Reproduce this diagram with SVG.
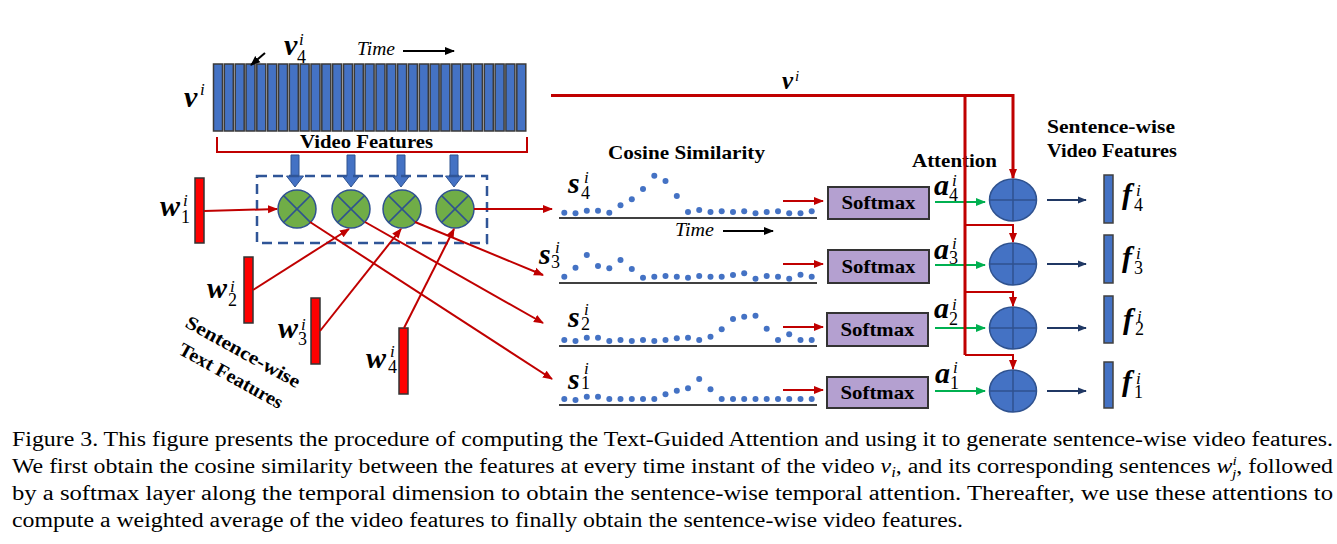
<svg xmlns="http://www.w3.org/2000/svg" width="1337" height="544" viewBox="0 0 1337 544">
<style>
.lbl{font-family:"Liberation Serif",serif;font-weight:bold;font-size:19px;fill:#000}
.m{font-family:"Liberation Serif",serif;font-weight:bold;font-style:italic;font-size:30px;fill:#000}
.sup{font-family:"Liberation Serif",serif;font-weight:normal;font-style:italic;font-size:17px}
.sub{font-family:"Liberation Serif",serif;font-weight:normal;font-style:normal;font-size:18px}
.time{font-family:"Liberation Serif",serif;font-style:italic;font-size:18px;fill:#000}
.cap{font-family:"Liberation Serif",serif;font-size:20px;fill:#000}
.vbar{fill:#4472C4;stroke:#3a3a3a;stroke-width:1.5}
.wbar{fill:#FF0000;stroke:#333;stroke-width:1.5}
.fbar{fill:#4472C4;stroke:#404040;stroke-width:1.5}
.red{stroke:#C00000;stroke-width:2;fill:none}
.redt{stroke:#C00000;stroke-width:3;fill:none}
.grn{stroke:#00B050;stroke-width:2;fill:none}
.nav{stroke:#203864;stroke-width:2;fill:none}
.blk{stroke:#000;stroke-width:2;fill:none}
.mult{fill:#70AD47;stroke:#2F528F;stroke-width:1.5}
.x{stroke:#2F528F;stroke-width:1.5}
.add{fill:#4472C4;stroke:#2F528F;stroke-width:1.5}
.soft{fill:#B4A0D0;stroke:#333;stroke-width:2}
.axis{stroke:#404040;stroke-width:2}
.dot{fill:#4472C4}
.barrow{fill:#4472C4;stroke:#2F528F;stroke-width:1}
</style>
<defs>
<marker id="ar" viewBox="0 0 10 10" refX="9" refY="5" markerWidth="10" markerHeight="10" markerUnits="userSpaceOnUse" orient="auto"><path d="M0,1 L10,5 L0,9 z" fill="#C00000"/></marker>
<marker id="ag" viewBox="0 0 10 10" refX="9" refY="5" markerWidth="10" markerHeight="10" markerUnits="userSpaceOnUse" orient="auto"><path d="M0,1 L10,5 L0,9 z" fill="#00B050"/></marker>
<marker id="an" viewBox="0 0 10 10" refX="9" refY="5" markerWidth="9" markerHeight="9" markerUnits="userSpaceOnUse" orient="auto"><path d="M0,1 L10,5 L0,9 z" fill="#203864"/></marker>
<marker id="ak" viewBox="0 0 10 10" refX="9" refY="5" markerWidth="10" markerHeight="10" markerUnits="userSpaceOnUse" orient="auto"><path d="M0,1 L10,5 L0,9 z" fill="#000"/></marker>
<g id="mx"><circle r="19" class="mult"/><line x1="-13.4" y1="-13.4" x2="13.4" y2="13.4" class="x"/><line x1="13.4" y1="-13.4" x2="-13.4" y2="13.4" class="x"/></g>
<g id="pl"><ellipse rx="23.5" ry="21" class="add"/><line x1="-23.5" y1="0" x2="23.5" y2="0" class="x"/><line x1="0" y1="-21" x2="0" y2="21" class="x"/></g>
<path id="dn" d="M-4,0 H4 V21 H8.5 L0,32 L-8.5,21 H-4 z"/>
</defs>

<g id="video-features">
<rect class="vbar" x="213.5" y="64" width="9" height="67"/>
<rect class="vbar" x="224.3" y="64" width="9" height="67"/>
<rect class="vbar" x="235.2" y="64" width="9" height="67"/>
<rect class="vbar" x="246.0" y="64" width="9" height="67"/>
<rect class="vbar" x="256.8" y="64" width="9" height="67"/>
<rect class="vbar" x="267.7" y="64" width="9" height="67"/>
<rect class="vbar" x="278.5" y="64" width="9" height="67"/>
<rect class="vbar" x="289.3" y="64" width="9" height="67"/>
<rect class="vbar" x="300.1" y="64" width="9" height="67"/>
<rect class="vbar" x="311.0" y="64" width="9" height="67"/>
<rect class="vbar" x="321.8" y="64" width="9" height="67"/>
<rect class="vbar" x="332.6" y="64" width="9" height="67"/>
<rect class="vbar" x="343.5" y="64" width="9" height="67"/>
<rect class="vbar" x="354.3" y="64" width="9" height="67"/>
<rect class="vbar" x="365.1" y="64" width="9" height="67"/>
<rect class="vbar" x="376.0" y="64" width="9" height="67"/>
<rect class="vbar" x="386.8" y="64" width="9" height="67"/>
<rect class="vbar" x="397.6" y="64" width="9" height="67"/>
<rect class="vbar" x="408.4" y="64" width="9" height="67"/>
<rect class="vbar" x="419.3" y="64" width="9" height="67"/>
<rect class="vbar" x="430.1" y="64" width="9" height="67"/>
<rect class="vbar" x="440.9" y="64" width="9" height="67"/>
<rect class="vbar" x="451.8" y="64" width="9" height="67"/>
<rect class="vbar" x="462.6" y="64" width="9" height="67"/>
<rect class="vbar" x="473.4" y="64" width="9" height="67"/>
<rect class="vbar" x="484.3" y="64" width="9" height="67"/>
<rect class="vbar" x="495.1" y="64" width="9" height="67"/>
<rect class="vbar" x="505.9" y="64" width="9" height="67"/>
<rect class="vbar" x="516.8" y="64" width="9" height="67"/>
<path d="M217,137 V152 H527 V137" class="red"/>
<text class="lbl" x="366.5" y="148" text-anchor="middle" textLength="133" lengthAdjust="spacingAndGlyphs">Video Features</text>
<text class="m" x="184" y="107">v<tspan class="sup" x="200" y="95">i</tspan></text>
<text class="m" x="284" y="55">v<tspan class="sup" x="299" y="45">i</tspan><tspan class="sub" x="297" y="63">4</tspan></text>
<line x1="265" y1="53" x2="251" y2="65" class="blk" marker-end="url(#ak)"/>
<text class="time" x="357" y="55" textLength="38" lengthAdjust="spacingAndGlyphs">Time</text>
<line x1="403" y1="51" x2="454" y2="51" class="blk" marker-end="url(#ak)"/>
</g>

<g id="feature-arrows">
<use href="#dn" x="295" y="155" class="barrow"/>
<use href="#dn" x="351" y="155" class="barrow"/>
<use href="#dn" x="401" y="155" class="barrow"/>
<use href="#dn" x="454" y="155" class="barrow"/>
</g>

<g id="multiply">
<rect x="257" y="176" width="230" height="67" fill="none" stroke="#2F5597" stroke-width="2.5" stroke-dasharray="10,6"/>
<use href="#mx" x="297" y="209"/>
<use href="#mx" x="351" y="209"/>
<use href="#mx" x="402" y="209"/>
<use href="#mx" x="455" y="209"/>
</g>

<g id="text-features">
<rect class="wbar" x="195" y="178" width="9" height="65"/>
<rect class="wbar" x="244" y="257" width="9" height="66"/>
<rect class="wbar" x="311" y="298" width="9" height="66"/>
<rect class="wbar" x="399" y="328" width="9" height="66"/>
<text class="m" x="160" y="216">w<tspan class="sup" x="183" y="206">i</tspan><tspan class="sub" x="181" y="223">1</tspan></text>
<text class="m" x="207" y="298">w<tspan class="sup" x="230" y="292">i</tspan><tspan class="sub" x="228" y="306">2</tspan></text>
<text class="m" x="278" y="338">w<tspan class="sup" x="301" y="330">i</tspan><tspan class="sub" x="298" y="345">3</tspan></text>
<text class="m" x="366" y="368">w<tspan class="sup" x="390" y="357">i</tspan><tspan class="sub" x="388" y="373">4</tspan></text>
<g transform="translate(243,352) rotate(29)"><text class="lbl" x="0" y="6" text-anchor="middle" textLength="128" lengthAdjust="spacingAndGlyphs">Sentence-wise</text></g>
<g transform="translate(231,376) rotate(29)"><text class="lbl" x="0" y="6" text-anchor="middle" textLength="116" lengthAdjust="spacingAndGlyphs">Text Features</text></g>
</g>

<g id="cosine-similarity">
<text class="lbl" x="686.5" y="159" text-anchor="middle" textLength="157" lengthAdjust="spacingAndGlyphs">Cosine Similarity</text>
<text class="time" x="675" y="236" textLength="39" lengthAdjust="spacingAndGlyphs">Time</text>
<line x1="723" y1="231" x2="773" y2="231" class="blk" marker-end="url(#ak)"/>
<line x1="559" y1="218" x2="817" y2="218" class="axis"/>
<line x1="559" y1="283" x2="817" y2="283" class="axis"/>
<line x1="559" y1="346" x2="817" y2="346" class="axis"/>
<line x1="559" y1="405" x2="817" y2="405" class="axis"/>
<text class="m" x="568" y="193">s<tspan class="sup" x="584" y="183">i</tspan><tspan class="sub" x="581" y="199">4</tspan></text>
<text class="m" x="539" y="264">s<tspan class="sup" x="555" y="253">i</tspan><tspan class="sub" x="551" y="268">3</tspan></text>
<text class="m" x="568" y="327">s<tspan class="sup" x="584" y="315">i</tspan><tspan class="sub" x="581" y="330">2</tspan></text>
<text class="m" x="568" y="389">s<tspan class="sup" x="584" y="374">i</tspan><tspan class="sub" x="581" y="389">1</tspan></text>
<g class="dot">
<circle cx="564.3" cy="212.7" r="3"/><circle cx="575.5" cy="213.3" r="3"/><circle cx="586.8" cy="210.7" r="3"/><circle cx="598.0" cy="210.7" r="3"/><circle cx="609.3" cy="212.7" r="3"/><circle cx="620.5" cy="205.3" r="3"/><circle cx="631.8" cy="199.3" r="3"/><circle cx="643.0" cy="189" r="3"/><circle cx="654.3" cy="175.7" r="3"/><circle cx="665.5" cy="181" r="3"/><circle cx="676.8" cy="196" r="3"/><circle cx="688.0" cy="212" r="3"/><circle cx="699.2" cy="210" r="3"/><circle cx="710.5" cy="212" r="3"/><circle cx="721.7" cy="211.3" r="3"/><circle cx="733.0" cy="212" r="3"/><circle cx="744.2" cy="211.3" r="3"/><circle cx="755.5" cy="213.3" r="3"/><circle cx="766.7" cy="212" r="3"/><circle cx="778.0" cy="211.3" r="3"/><circle cx="789.2" cy="213.3" r="3"/><circle cx="800.5" cy="213.3" r="3"/><circle cx="811.7" cy="211.3" r="3"/>
<circle cx="564.3" cy="276.7" r="3"/><circle cx="575.5" cy="267.7" r="3"/><circle cx="586.8" cy="255" r="3"/><circle cx="598.0" cy="266" r="3"/><circle cx="609.3" cy="268.3" r="3"/><circle cx="620.5" cy="260" r="3"/><circle cx="631.8" cy="269" r="3"/><circle cx="643.0" cy="277.7" r="3"/><circle cx="654.3" cy="276.7" r="3"/><circle cx="665.5" cy="276" r="3"/><circle cx="676.8" cy="276.7" r="3"/><circle cx="688.0" cy="277.7" r="3"/><circle cx="699.2" cy="276" r="3"/><circle cx="710.5" cy="276.7" r="3"/><circle cx="721.7" cy="276.7" r="3"/><circle cx="733.0" cy="275" r="3"/><circle cx="744.2" cy="273.3" r="3"/><circle cx="755.5" cy="278.7" r="3"/><circle cx="766.7" cy="276" r="3"/><circle cx="778.0" cy="276.7" r="3"/><circle cx="789.2" cy="278.7" r="3"/><circle cx="800.5" cy="274.7" r="3"/><circle cx="811.7" cy="276.7" r="3"/>
<circle cx="564.3" cy="340" r="3"/><circle cx="575.5" cy="341" r="3"/><circle cx="586.8" cy="337.7" r="3"/><circle cx="598.0" cy="337.7" r="3"/><circle cx="609.3" cy="341" r="3"/><circle cx="620.5" cy="340" r="3"/><circle cx="631.8" cy="341" r="3"/><circle cx="643.0" cy="340" r="3"/><circle cx="654.3" cy="341" r="3"/><circle cx="665.5" cy="340" r="3"/><circle cx="676.8" cy="338.3" r="3"/><circle cx="688.0" cy="337.7" r="3"/><circle cx="699.2" cy="340" r="3"/><circle cx="710.5" cy="336.7" r="3"/><circle cx="721.7" cy="329.3" r="3"/><circle cx="733.0" cy="319" r="3"/><circle cx="744.2" cy="316.7" r="3"/><circle cx="755.5" cy="315.7" r="3"/><circle cx="766.7" cy="328.7" r="3"/><circle cx="778.0" cy="340" r="3"/><circle cx="789.2" cy="334.3" r="3"/><circle cx="800.5" cy="340" r="3"/><circle cx="811.7" cy="340" r="3"/>
<circle cx="564.3" cy="399" r="3"/><circle cx="575.5" cy="400" r="3"/><circle cx="586.8" cy="396.7" r="3"/><circle cx="598.0" cy="396.7" r="3"/><circle cx="609.3" cy="399" r="3"/><circle cx="620.5" cy="399" r="3"/><circle cx="631.8" cy="399" r="3"/><circle cx="643.0" cy="399" r="3"/><circle cx="654.3" cy="399" r="3"/><circle cx="665.5" cy="394.3" r="3"/><circle cx="676.8" cy="390.7" r="3"/><circle cx="688.0" cy="388.3" r="3"/><circle cx="699.2" cy="379" r="3"/><circle cx="710.5" cy="389.3" r="3"/><circle cx="721.7" cy="399" r="3"/><circle cx="733.0" cy="399" r="3"/><circle cx="744.2" cy="399" r="3"/><circle cx="755.5" cy="399" r="3"/><circle cx="766.7" cy="399" r="3"/><circle cx="778.0" cy="399" r="3"/><circle cx="789.2" cy="399" r="3"/><circle cx="800.5" cy="399" r="3"/><circle cx="811.7" cy="399" r="3"/>
</g>
</g>

<g id="softmax">
<rect class="soft" x="828" y="187" width="101" height="32"/>
<rect class="soft" x="828" y="250" width="101" height="33"/>
<rect class="soft" x="827" y="313" width="101" height="33"/>
<rect class="soft" x="827" y="377" width="101" height="31"/>
<text class="lbl" x="878.5" y="209" text-anchor="middle" textLength="74" lengthAdjust="spacingAndGlyphs">Softmax</text>
<text class="lbl" x="878.5" y="273" text-anchor="middle" textLength="74" lengthAdjust="spacingAndGlyphs">Softmax</text>
<text class="lbl" x="877.5" y="336" text-anchor="middle" textLength="74" lengthAdjust="spacingAndGlyphs">Softmax</text>
<text class="lbl" x="877.5" y="399" text-anchor="middle" textLength="74" lengthAdjust="spacingAndGlyphs">Softmax</text>
</g>

<g id="attention">
<text class="lbl" x="954.5" y="167" text-anchor="middle" textLength="85" lengthAdjust="spacingAndGlyphs">Attention</text>
<text class="m" x="934" y="195">a<tspan class="sup" x="952" y="186">i</tspan><tspan class="sub" x="949" y="201">4</tspan></text>
<text class="m" x="934" y="259">a<tspan class="sup" x="952" y="249">i</tspan><tspan class="sub" x="949" y="264">3</tspan></text>
<text class="m" x="934" y="318">a<tspan class="sup" x="952" y="310">i</tspan><tspan class="sub" x="949" y="325">2</tspan></text>
<text class="m" x="935" y="383">a<tspan class="sup" x="953" y="373">i</tspan><tspan class="sub" x="950" y="389">1</tspan></text>
</g>

<g id="weighted-sum">
<use href="#pl" x="1013" y="200"/>
<use href="#pl" x="1013" y="264"/>
<use href="#pl" x="1013" y="328"/>
<use href="#pl" x="1013" y="391"/>
</g>

<g id="output-features">
<text class="lbl" x="1111" y="133" text-anchor="middle" textLength="128" lengthAdjust="spacingAndGlyphs">Sentence-wise</text>
<text class="lbl" x="1112" y="157" text-anchor="middle" textLength="130" lengthAdjust="spacingAndGlyphs">Video Features</text>
<rect class="fbar" x="1104" y="175" width="9" height="48"/>
<rect class="fbar" x="1104" y="235" width="9" height="48"/>
<rect class="fbar" x="1104" y="296" width="9" height="47"/>
<rect class="fbar" x="1104" y="362" width="9" height="46"/>
<text class="m" x="1122" y="204">f<tspan class="sup" x="1136" y="196">i</tspan><tspan class="sub" x="1134" y="211">4</tspan></text>
<text class="m" x="1122" y="267">f<tspan class="sup" x="1136" y="259">i</tspan><tspan class="sub" x="1134" y="274">3</tspan></text>
<text class="m" x="1123" y="329">f<tspan class="sup" x="1137" y="322">i</tspan><tspan class="sub" x="1135" y="335">2</tspan></text>
<text class="m" x="1122" y="391">f<tspan class="sup" x="1136" y="384">i</tspan><tspan class="sub" x="1134" y="398">1</tspan></text>
</g>

<g id="connectors">
<line x1="204" y1="211" x2="277" y2="209" class="red" marker-end="url(#ar)"/>
<line x1="253" y1="290" x2="349" y2="229" class="red" marker-end="url(#ar)"/>
<line x1="320" y1="331" x2="401" y2="229" class="red" marker-end="url(#ar)"/>
<line x1="404" y1="328" x2="454" y2="229" class="red" marker-end="url(#ar)"/>
<line x1="474" y1="209" x2="552" y2="209" class="red" marker-end="url(#ar)"/>
<line x1="415" y1="222" x2="543" y2="275" class="red" marker-end="url(#ar)"/>
<line x1="365" y1="222" x2="543" y2="323" class="red" marker-end="url(#ar)"/>
<line x1="310" y1="222" x2="552" y2="379" class="red" marker-end="url(#ar)"/>
<line x1="783" y1="201" x2="823" y2="201" class="red" marker-end="url(#ar)"/>
<line x1="783" y1="264" x2="823" y2="264" class="red" marker-end="url(#ar)"/>
<line x1="783" y1="327" x2="823" y2="327" class="red" marker-end="url(#ar)"/>
<line x1="783" y1="390" x2="823" y2="390" class="red" marker-end="url(#ar)"/>
<line x1="935" y1="202" x2="985" y2="202" class="grn" marker-end="url(#ag)"/>
<line x1="935" y1="265" x2="985" y2="265" class="grn" marker-end="url(#ag)"/>
<line x1="935" y1="328" x2="985" y2="328" class="grn" marker-end="url(#ag)"/>
<line x1="935" y1="391" x2="985" y2="391" class="grn" marker-end="url(#ag)"/>
<path d="M551,95.5 H1013 V178" class="redt" marker-end="url(#ar)"/>
<path d="M965,95.5 V355" class="redt"/>
<path d="M965,225 H1013 V242" class="red" marker-end="url(#ar)"/>
<path d="M965,292 H1013 V306" class="red" marker-end="url(#ar)"/>
<path d="M965,355 H1013 V369" class="red" marker-end="url(#ar)"/>
<line x1="1047" y1="200" x2="1086" y2="200" class="nav" marker-end="url(#an)"/>
<line x1="1047" y1="264" x2="1086" y2="264" class="nav" marker-end="url(#an)"/>
<line x1="1047" y1="328" x2="1086" y2="328" class="nav" marker-end="url(#an)"/>
<line x1="1047" y1="391" x2="1086" y2="391" class="nav" marker-end="url(#an)"/>
<text class="m" x="782" y="89" style="font-size:25px">v<tspan class="sup" x="795" y="81" style="font-size:15px">i</tspan></text>
</g>

<g id="caption">
<text class="cap" x="12" y="446" textLength="1321" lengthAdjust="spacingAndGlyphs">Figure 3. This figure presents the procedure of computing the Text-Guided Attention and using it to generate sentence-wise video features.</text>
<text class="cap" x="12" y="473" textLength="1321" lengthAdjust="spacingAndGlyphs">We first obtain the cosine similarity between the features at every time instant of the video <tspan font-style="italic">v</tspan><tspan font-style="italic" font-size="14" dy="4">i</tspan><tspan dy="-4">, and its corresponding sentences </tspan><tspan font-style="italic">w</tspan><tspan font-style="italic" font-size="13" dy="-8">i</tspan><tspan font-style="italic" font-size="13" dx="-4" dy="13">j</tspan><tspan dy="-5">, followed</tspan></text>
<text class="cap" x="12" y="500" textLength="1321" lengthAdjust="spacingAndGlyphs">by a softmax layer along the temporal dimension to obtain the sentence-wise temporal attention.  Thereafter, we use these attentions to</text>
<text class="cap" x="12" y="527" textLength="951" lengthAdjust="spacingAndGlyphs">compute a weighted average of the video features to finally obtain the sentence-wise video features.</text>
</g>
</svg>
